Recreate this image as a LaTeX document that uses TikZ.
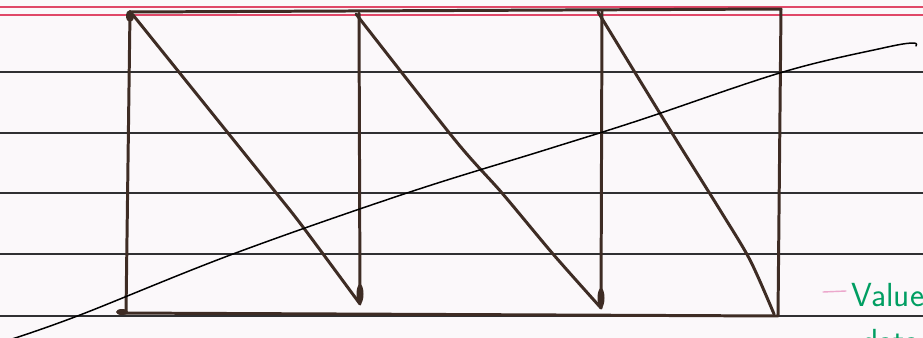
\documentclass[tikz,border=0pt]{standalone}
\usetikzlibrary{calc}
\definecolor{paper}{RGB}{251,248,250}
\definecolor{ruling}{RGB}{48,48,50}
\definecolor{margin}{RGB}{224,72,104}
\definecolor{ink}{RGB}{62,44,36}
\definecolor{marker}{RGB}{0,158,98}
\definecolor{pinkpen}{RGB}{236,168,204}
\begin{document}
\begin{tikzpicture}[x=0.02cm, y=-0.02cm, line cap=round, line join=round,
  frame/.style={ink, line width=1.7pt},
  graph/.style={black, line width=0.85pt},
  blob/.style={fill=ink},
  label/.style={marker, font=\sffamily\fontsize{19}{19}\selectfont, inner sep=0pt}]
  \fill[paper] (0,0) rectangle (923,338);
  \useasboundingbox (0,0) rectangle (923,338);
  \clip (0,0) rectangle (923,338);
  \draw[margin, line width=0.7pt] (0,7)--(923,7); \draw[margin, line width=0.7pt] (0,15)--(923,15);
  \foreach \y in {72,133,193,254,316} \draw[ruling, line width=0.85pt] (0,\y)--(923,\y);
  \coordinate (tl) at (130,12); \coordinate (tr) at (781,9);
  \coordinate (bl) at (119,313); \coordinate (br) at (778,316);
  \coordinate (ta) at (359,13); \coordinate (ba) at (360,304);
  \coordinate (tb) at (602,11); \coordinate (bb) at (601,308);
  \draw[frame] (tl)--(tr)--(br)--(bl); \draw[frame] (tl)--(126,313);
  \draw[frame] (ta)--(ba); \draw[frame] (tb)--(bb);
  \draw[frame] plot[smooth, tension=0.5] coordinates {(133,15) (228,133) (277,194) (303,227) (360,304)};
  \draw[frame] plot[smooth, tension=0.5] coordinates {(356,14) (455,140) (502,193) (553,254) (601,308)};
  \draw[frame] plot[smooth, tension=0.5] coordinates {(598,12) (672,133) (720,210) (750,260) (774,314)};
  \fill[blob] (360,294) ellipse (3.5 and 10); \fill[blob] (601,298) ellipse (3.5 and 10);
  \fill[blob] (130,16) ellipse (4 and 6); \fill[blob] (122,312) ellipse (6 and 3);
  \draw[graph] plot[smooth, tension=0.6] coordinates {(12,339) (80,315) (233,254) (407,193) (545,150) (640,120) (783,72) (883,48) (913,43) (916,46)};
  \draw[pinkpen, line width=0.8pt] (823,292)--(846,291);
  \node[label, anchor=base west] (val) at (851,306) {Value};
  \node[label, anchor=base west] (dat) at (862,352) {data};
\end{tikzpicture}
\end{document}
